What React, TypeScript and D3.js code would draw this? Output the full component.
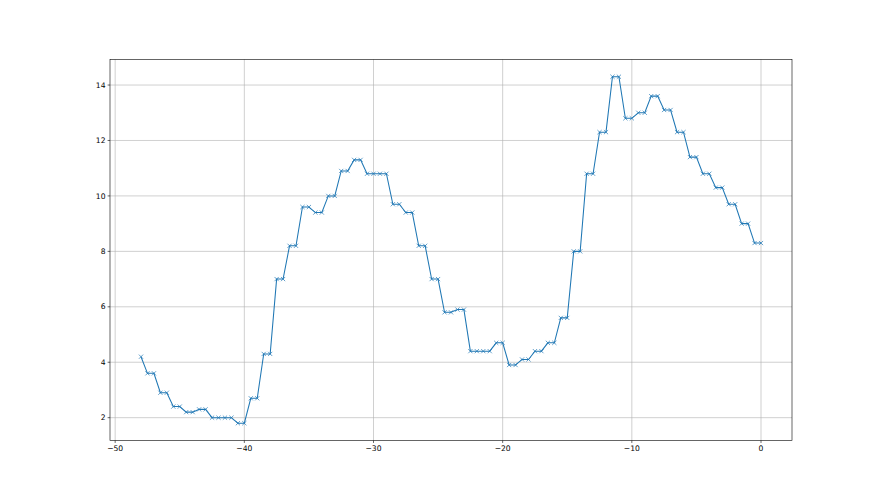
import React from "react";
import * as d3 from "d3";

const keys: number[] = [-47,-46,-45,-44,-43,-42,-41,-40,-39,-38,-37,-36,-35,-34,-33,-32,-31,-30,-29,-28,-27,-26,-25,-24,-23,-22,-21,-20,-19,-18,-17,-16,-15,-14,-13,-12,-11,-10,-9,-8,-7,-6,-5,-4,-3,-2,-1,0];
const values: number[] = [3.6,2.9,2.4,2.2,2.3,2.0,2.0,1.8,2.7,4.3,7.0,8.2,9.6,9.4,10.0,10.9,11.3,10.8,10.8,9.7,9.4,8.2,7.0,5.8,5.9,4.4,4.4,4.7,3.9,4.1,4.4,4.7,5.6,8.0,10.8,12.3,14.3,12.8,13.0,13.6,13.1,12.3,11.4,10.8,10.3,9.7,9.0,8.3];
const firstX = -48;
const firstY = 4.2;
const xTicks: number[] = [-50, -40, -30, -20, -10, 0];
const yTicks: number[] = [2, 4, 6, 8, 10, 12, 14];

const points: [number, number][] = [[firstX, firstY]];
keys.forEach((k, i) => {
  points.push([k - 0.5, values[i]]);
  points.push([k, values[i]]);
});

export default function App() {
  const W = 880, H = 495;
  const left = 110, right = 792, top = 59.4, bottom = 440.55;
  const xs = points.map(p => p[0]);
  const ys = points.map(p => p[1]);
  const xmin = d3.min(xs)!, xmax = d3.max(xs)!;
  const ymin = d3.min(ys)!, ymax = d3.max(ys)!;
  const xm = (xmax - xmin) * 0.05, ym = (ymax - ymin) * 0.05;
  const x = d3.scaleLinear().domain([xmin - xm, xmax + xm]).range([left, right]);
  const y = d3.scaleLinear().domain([ymin - ym, ymax + ym]).range([bottom, top]);
  const line = d3.line<[number, number]>().x(d => x(d[0])).y(d => y(d[1]));
  const color = "#1f77b4";
  const ms = 2.1;
  const font = "DejaVu Sans, sans-serif";
  return (
    <svg width={W} height={H} style={{ position: "absolute", left: 0, top: 0, background: "#fff" }}>
      <rect x={0} y={0} width={W} height={H} fill="#fff" />
      {xTicks.map(t => (
        <line key={"gx" + t} x1={x(t)} x2={x(t)} y1={top} y2={bottom} stroke="#b0b0b0" strokeWidth={0.6} />
      ))}
      {yTicks.map(t => (
        <line key={"gy" + t} x1={left} x2={right} y1={y(t)} y2={y(t)} stroke="#b0b0b0" strokeWidth={0.6} />
      ))}
      <path d={line(points)!} fill="none" stroke={color} strokeWidth={1.05} />
      {points.map((p, i) => (
        <g key={"m" + i} stroke={color} strokeWidth={0.7}>
          <line x1={x(p[0]) - ms} x2={x(p[0]) + ms} y1={y(p[1]) - ms} y2={y(p[1]) + ms} />
          <line x1={x(p[0]) - ms} x2={x(p[0]) + ms} y1={y(p[1]) + ms} y2={y(p[1]) - ms} />
        </g>
      ))}
      <rect x={left} y={top} width={right - left} height={bottom - top} fill="none" stroke="#000" strokeWidth={0.6} />
      {xTicks.map(t => (
        <g key={"tx" + t}>
          <line x1={x(t)} x2={x(t)} y1={bottom} y2={bottom + 2.4} stroke="#000" strokeWidth={0.6} />
          <text x={x(t)} y={bottom + 10.5} fontSize={7.6} fontFamily={font} textAnchor="middle" fill="#000">
            {t < 0 ? "\u2212" + Math.abs(t) : String(t)}
          </text>
        </g>
      ))}
      {yTicks.map(t => (
        <g key={"ty" + t}>
          <line x1={left - 2.4} x2={left} y1={y(t)} y2={y(t)} stroke="#000" strokeWidth={0.6} />
          <text x={left - 4.5} y={y(t)} dy="0.35em" fontSize={7.6} fontFamily={font} textAnchor="end" fill="#000">
            {String(t)}
          </text>
        </g>
      ))}
    </svg>
  );
}
